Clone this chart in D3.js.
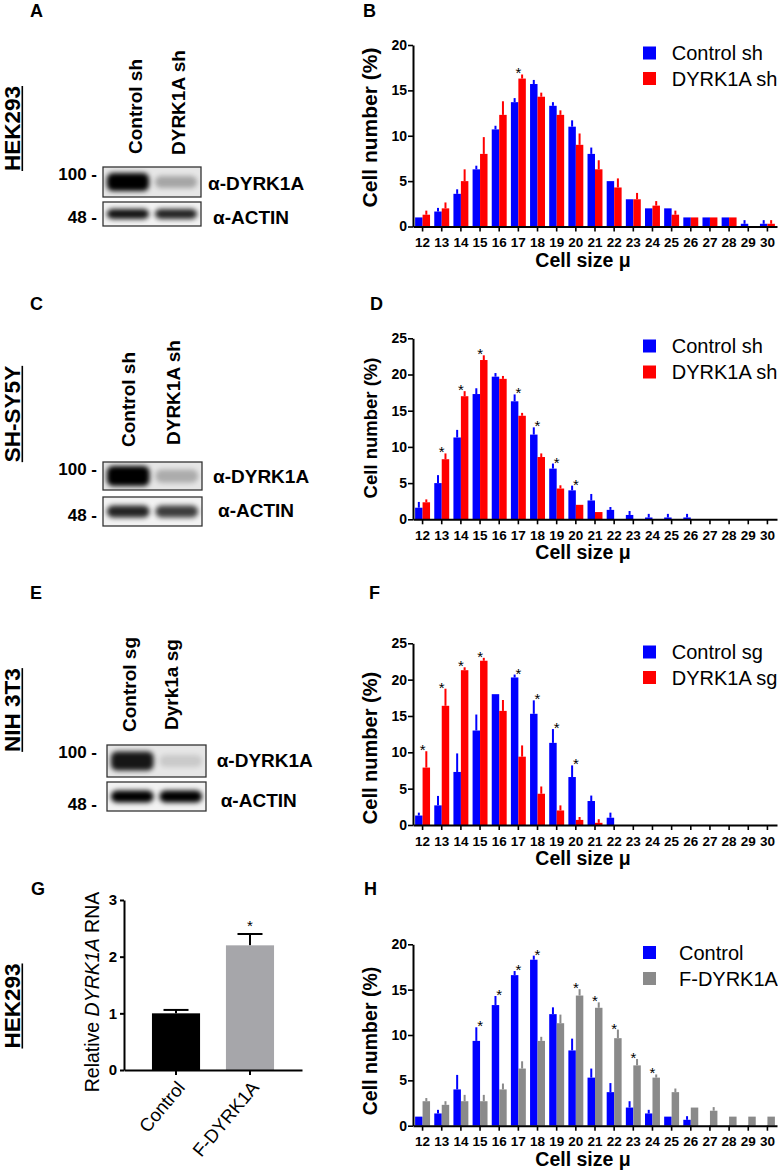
<!DOCTYPE html>
<html><head><meta charset="utf-8">
<script src="https://cdn.jsdelivr.net/npm/d3@7"></script>
<style>
body{margin:0;background:#fff;}
svg{display:block;font-family:"Liberation Sans",Arial,Helvetica,sans-serif;}
</style></head><body>
<svg id="fig" width="778" height="1170"></svg>
<script>
// ---------- DATA ----------
const sizes = ["12","13","14","15","16","17","18","19","20","21","22","23","24","25","26","27","28","29","30"];

// Panel B (HEK293 shRNA)
const bCtrl    = [1.0,1.65,3.6,6.3,10.7,13.7,15.7,13.3,11.0,8.0,5.0,3.0,2.0,2.0,1.0,1.0,1.0,0.3,0.3];
const bCtrlErr = [0,0.4,0.5,0.4,0.4,0.45,0.45,0.4,0.7,0.7,0,0,0,0,0,0,0,0.4,0.4];
const bKd      = [1.3,2.0,5.0,8.0,12.3,16.3,14.3,12.3,9.0,6.3,4.3,3.0,2.3,1.3,1.0,1.0,1.0,0,0.3];
const bKdErr   = [0.45,0.65,1.3,1.85,1.5,0.45,0.45,0.5,1.25,1.0,1.0,0.7,0.5,0.45,0,0,0,0,0.4];
const bStars   = ["17"];

// Panel D (SH-SY5Y shRNA)
const dCtrl    = [1.6,5.0,11.3,17.3,19.7,16.3,11.7,7.0,4.0,2.6,1.3,0.6,0.25,0.25,0.25,0,0,0,0];
const dCtrlErr = [0.8,1.1,1.05,0.8,0.5,0.95,1.0,0.7,0.65,0.9,0.4,0.55,0.5,0.5,0.5,0,0,0,0];
const dKd      = [2.35,8.3,17.0,22.0,19.4,14.3,8.6,4.25,2.0,1.0,0,0,0,0,0,0,0,0,0];
const dKdErr   = [0.4,0.8,0.7,0.65,0.4,0.4,0.5,0.45,0,0,0,0,0,0,0,0,0,0,0];
const dStars   = ["13","14","15","17","18","19","20"];

// Panel F (NIH 3T3 sgRNA)
const fCtrl    = [1.3,2.7,7.3,13.0,18.0,20.3,15.3,11.3,6.6,3.3,1.0,0,0,0,0,0,0,0,0];
const fCtrlErr = [0.4,1.3,2.55,2.2,0,0.4,1.85,1.9,1.6,0.75,0.7,0,0,0,0,0,0,0,0];
const fKd      = [7.9,16.4,21.3,22.6,15.7,9.4,4.3,2.0,0.7,0.3,0,0,0,0,0,0,0,0,0];
const fKdErr   = [2.25,2.35,0.4,0.4,1.5,1.55,1.0,0.7,0.4,0.5,0,0,0,0,0,0,0,0,0];
const fStars   = ["12","13","14","15","17","18","19","20"];

// Panel H (HEK293 overexpression)
const hCtrl    = [1.0,1.35,4.0,9.35,13.3,16.6,18.3,12.3,8.3,5.3,3.7,2.0,1.35,1.0,0.65,0,0,0,0];
const hCtrlErr = [0,0.4,1.6,1.5,1.0,0.45,0.45,0.75,1.3,1.0,1.0,0.7,0.4,0,0.4,0,0,0,0];
const hF       = [2.7,2.3,2.7,2.7,4.0,6.3,9.35,11.3,14.35,13.0,9.65,6.65,5.3,3.7,2.0,1.65,1.0,1.0,1.0];
const hFErr    = [0.35,0.4,0.7,0.7,0.65,0.8,0.45,0.95,0.7,0.6,0.95,0.7,0.35,0.4,0,0.4,0,0,0];
const hStars   = ["15","16","17","18","20","21","22","23","24"];

// Panel G (qPCR)
const gCats = ["Control","F-DYRK1A"];
const gVals = [1.0, 2.2];
const gErr  = [0.06, 0.2];
const gStars = ["F-DYRK1A"];
const gTicks = [0,1,2,3];

// Western blots: lane labels and band intensities
const blotA = {lanes:["Control sh","DYRK1A sh"], dyrk:[1.0,0.28], actin:[0.92,0.85]};
const blotC = {lanes:["Control sh","DYRK1A sh"], dyrk:[1.0,0.25], actin:[0.85,0.75]};
const blotE = {lanes:["Control sg","Dyrk1a sg"], dyrk:[0.9,0.12], actin:[1.0,1.0]};

const BLUE="#0000ff", RED="#ff0000", GRAY="#8a8a8a";
const FF = "'Liberation Sans',Arial,sans-serif";

// ---------- DRAW ----------
const svg = d3.select("#fig");
const defs = svg.append("defs");
defs.append("filter").attr("id","blur").attr("x","-50%").attr("y","-50%").attr("width","200%").attr("height","200%")
  .append("feGaussianBlur").attr("stdDeviation",2.4);

function letter(t,x,y){
  svg.append("text").attr("x",x).attr("y",y).attr("font-size",18).attr("font-weight","bold").text(t);
}
function cellLine(t,cy){
  const tx = svg.append("text").attr("transform",`translate(19.5,${cy}) rotate(-90)`)
    .attr("text-anchor","middle").attr("font-size",22.5).attr("font-weight","bold").text(t);
  const L = tx.node().getComputedTextLength();
  svg.append("line").attr("x1",22.3).attr("x2",22.3).attr("y1",cy-L/2).attr("y2",cy+L/2)
    .attr("stroke","#000").attr("stroke-width",1.6);
}

function histPanel(o){
  const g = svg.append("g");
  const x = d3.scaleBand().domain(sizes).range([413,777]).paddingInner(0.22).paddingOuter(0.11);
  const xs = d3.scaleBand().domain([0,1]).range([0,x.bandwidth()]);
  const y = d3.scaleLinear().domain([0,o.ymax]).range([o.y0,o.y1]);
  o.series.forEach((s,si)=>{
    const data = sizes.map((c,i)=>({c,v:s.vals[i],e:s.errs[i]}));
    const gs = g.append("g");
    gs.selectAll("line").data(data.filter(d=>d.e>0)).join("line")
      .attr("x1",d=>x(d.c)+xs(si)+xs.bandwidth()/2).attr("x2",d=>x(d.c)+xs(si)+xs.bandwidth()/2)
      .attr("y1",d=>y(d.v)).attr("y2",d=>y(d.v+d.e))
      .attr("stroke",s.color).attr("stroke-width",2);
    gs.selectAll("rect").data(data).join("rect")
      .attr("x",d=>x(d.c)+xs(si)).attr("width",xs.bandwidth())
      .attr("y",d=>y(d.v)).attr("height",d=>y(0)-y(d.v)).attr("fill",s.color);
  });
  // stars
  g.selectAll("text.star").data(o.stars).join("text").attr("class","star")
    .attr("x",c=>x(c)+x.bandwidth()/2)
    .attr("y",c=>{const i=sizes.indexOf(c);return y(d3.max(o.series,s=>s.vals[i]+s.errs[i]))+4;})
    .attr("text-anchor","middle").attr("font-size",15).text("*");
  // axes
  const ya = g.append("g").attr("transform","translate(413,0)")
    .call(d3.axisLeft(y).tickValues(d3.range(0,o.ymax+1,5)).tickFormat(d3.format("d")).tickSize(5).tickSizeOuter(0).tickPadding(1));
  const xa = g.append("g").attr("transform",`translate(0,${o.y0})`)
    .call(d3.axisBottom(x).tickSize(5).tickSizeOuter(0).tickPadding(6));
  [ya,xa].forEach(a=>{
    a.select(".domain").attr("stroke-width",2);
    a.selectAll(".tick line").attr("stroke-width",1.6);
    a.selectAll("text").attr("font-weight","bold").attr("font-family",FF);
  });
  ya.selectAll("text").attr("font-size",14);
  xa.selectAll("text").attr("font-size",13.5);
  // labels
  g.append("text").attr("transform",`translate(376.5,${o.ylc}) rotate(-90)`).attr("text-anchor","middle")
    .attr("font-size",o.yls).attr("font-weight","bold").text("Cell number (%)");
  g.append("text").attr("x",583).attr("y",o.y0+40).attr("text-anchor","middle")
    .attr("font-size",19.5).attr("font-weight","bold").text("Cell size μ");
  // legend
  o.series.forEach((s,si)=>{
    const cy = o.leg[si];
    g.append("rect").attr("x",643).attr("y",cy-6.5).attr("width",13).attr("height",13).attr("fill",s.color);
    g.append("text").attr("x",o.legx).attr("y",cy+7).attr("font-size",20).text(s.name);
  });
}

function blot(o){
  const g = svg.append("g");
  const lx = o.x0, w = o.w;
  const lane = d3.scaleBand().domain(o.d.lanes).range([lx,lx+w]).paddingInner(0.12).paddingOuter(0.08);
  const boxes = [
    {y:o.b1[0],h:o.b1[1],vals:o.d.dyrk,bh:o.dh,fill:"#e6e6e6"},
    {y:o.b2[0],h:o.b2[1],vals:o.d.actin,bh:o.ah,fill:"#f2f2f2"}
  ];
  boxes.forEach((b,bi)=>{
    const id = "clip"+o.id+bi;
    defs.append("clipPath").attr("id",id).append("rect").attr("x",lx).attr("y",b.y).attr("width",w).attr("height",b.h);
    g.append("rect").attr("x",lx).attr("y",b.y).attr("width",w).attr("height",b.h).attr("fill",b.fill);
    const gb = g.append("g").attr("clip-path",`url(#${id})`);
    gb.selectAll("rect").data(o.d.lanes.map((l,i)=>({l,v:b.vals[i]}))).join("rect")
      .attr("x",d=>lane(d.l)).attr("width",lane.bandwidth())
      .attr("y",d=>b.y+b.h/2-b.bh*(bi===0?(0.55+0.45*d.v):1)/2)
      .attr("height",d=>b.bh*(bi===0?(0.55+0.45*d.v):1))
      .attr("rx",6).attr("fill","#000").attr("opacity",d=>d.v).attr("filter","url(#blur)");
    g.append("rect").attr("x",lx).attr("y",b.y).attr("width",w).attr("height",b.h)
      .attr("fill","none").attr("stroke","#333").attr("stroke-width",1.3);
  });
  // lane labels
  o.d.lanes.forEach((l,i)=>{
    g.append("text").attr("transform",`translate(${o.lanex[i]},${o.laney[i]}) rotate(-90)`)
      .attr("font-size",19).attr("font-weight","bold").text(l);
  });
  g.append("text").attr("x",97).attr("y",o.m100).attr("text-anchor","end").attr("font-size",17).attr("font-weight","bold").text("100 -");
  g.append("text").attr("x",97).attr("y",o.m48).attr("text-anchor","end").attr("font-size",17).attr("font-weight","bold").text("48 -");
  g.append("text").attr("x",o.ax[0]).attr("y",o.ay[0]).attr("font-size",19).attr("font-weight","bold").text("α-DYRK1A");
  g.append("text").attr("x",o.ax[1]).attr("y",o.ay[1]).attr("font-size",19).attr("font-weight","bold").text("α-ACTIN");
}

// Panel letters
letter("A",30,17); letter("B",363,17);
letter("C",30,310); letter("D",370,310);
letter("E",30,599); letter("F",369,599);
letter("G",31,895); letter("H",364,895);

cellLine("HEK293",128.5);
cellLine("SH-SY5Y",414);
cellLine("NIH 3T3",710);
cellLine("HEK293",1006);

blot({id:"A",d:blotA,x0:103,w:98,b1:[167,30],b2:[202,24],dh:18,ah:10,
  lanex:[142,185],laney:[154,155],m100:180,m48:222.5,ax:[208,213],ay:[189.5,224]});
blot({id:"C",d:blotC,x0:103,w:99,b1:[462,28],b2:[497,29],dh:20,ah:12,
  lanex:[135,180],laney:[447,445],m100:475,m48:520.5,ax:[213,218],ay:[483,516.5]});
blot({id:"E",d:blotE,x0:107,w:99,b1:[745,32],b2:[782,29],dh:20,ah:12,
  lanex:[136,177.5],laney:[732,730],m100:758,m48:810,ax:[216.7,220.7],ay:[766.5,806.5]});

histPanel({y0:226.5,y1:45,ymax:20,ylc:127.5,yls:21,leg:[53,78.5],legx:671.7,stars:bStars,
  series:[{vals:bCtrl,errs:bCtrlErr,color:BLUE,name:"Control sh"},{vals:bKd,errs:bKdErr,color:RED,name:"DYRK1A sh"}]});
histPanel({y0:519.3,y1:338.3,ymax:25,ylc:428,yls:18.5,leg:[346,372],legx:671.7,stars:dStars,
  series:[{vals:dCtrl,errs:dCtrlErr,color:BLUE,name:"Control sh"},{vals:dKd,errs:dKdErr,color:RED,name:"DYRK1A sh"}]});
histPanel({y0:825,y1:643.3,ymax:25,ylc:748,yls:20,leg:[652,677.5],legx:671.7,stars:fStars,
  series:[{vals:fCtrl,errs:fCtrlErr,color:BLUE,name:"Control sg"},{vals:fKd,errs:fKdErr,color:RED,name:"DYRK1A sg"}]});
histPanel({y0:1125.7,y1:944.3,ymax:20,ylc:1041,yls:19.5,leg:[952.5,978.5],legx:679,stars:hStars,
  series:[{vals:hCtrl,errs:hCtrlErr,color:BLUE,name:"Control"},{vals:hF,errs:hFErr,color:GRAY,name:"F-DYRK1A"}]});

// Panel G
(function(){
  const g = svg.append("g");
  const x = d3.scaleBand().domain(gCats).range([124,302]).paddingInner(0.35).paddingOuter(0.378);
  const y = d3.scaleLinear().domain([0,3]).range([1070,900]);
  const cols = ["#000000","#a6a6aa"];
  const data = gCats.map((c,i)=>({c,v:gVals[i],e:gErr[i],col:cols[i]}));
  g.selectAll("line.err").data(data).join("line").attr("class","err")
    .attr("x1",d=>x(d.c)+x.bandwidth()/2).attr("x2",d=>x(d.c)+x.bandwidth()/2)
    .attr("y1",d=>y(d.v)).attr("y2",d=>y(d.v+d.e)).attr("stroke","#000").attr("stroke-width",2);
  g.selectAll("line.cap").data(data).join("line").attr("class","cap")
    .attr("x1",d=>x(d.c)+x.bandwidth()/2-12.5).attr("x2",d=>x(d.c)+x.bandwidth()/2+12.5)
    .attr("y1",d=>y(d.v+d.e)).attr("y2",d=>y(d.v+d.e)).attr("stroke","#000").attr("stroke-width",2);
  g.selectAll("rect").data(data).join("rect")
    .attr("x",d=>x(d.c)).attr("width",x.bandwidth()).attr("y",d=>y(d.v)).attr("height",d=>y(0)-y(d.v)).attr("fill",d=>d.col);
  g.selectAll("text.star").data(gStars).join("text").attr("class","star")
    .attr("x",c=>x(c)+x.bandwidth()/2).attr("y",c=>{const i=gCats.indexOf(c);return y(gVals[i]+gErr[i])-3;})
    .attr("text-anchor","middle").attr("font-size",15).text("*");
  const ya = g.append("g").attr("transform","translate(124,0)")
    .call(d3.axisLeft(y).tickValues(gTicks).tickFormat(d3.format("d")).tickSize(4).tickSizeOuter(0).tickPadding(3));
  const xa = g.append("g").attr("transform","translate(0,1070)")
    .call(d3.axisBottom(x).tickSize(5).tickSizeOuter(0));
  ya.select(".domain").attr("stroke-width",2); xa.select(".domain").attr("stroke-width",2);
  ya.selectAll(".tick line").attr("stroke-width",2); xa.selectAll(".tick line").attr("stroke-width",2);
  ya.selectAll("text").attr("font-size",15).attr("font-weight","bold").attr("font-family",FF);
  xa.selectAll("text").attr("font-size",18.5).attr("font-family",FF)
    .attr("text-anchor","end").attr("dy",0).attr("y",0)
    .attr("transform","translate(10,18) rotate(-50)");
  const yl = g.append("text").attr("transform","translate(99,992) rotate(-90)").attr("text-anchor","middle").attr("font-size",19.5);
  yl.append("tspan").text("Relative ");
  yl.append("tspan").attr("font-style","italic").text("DYRK1A");
  yl.append("tspan").text(" RNA");
})();
</script>
</body></html>
